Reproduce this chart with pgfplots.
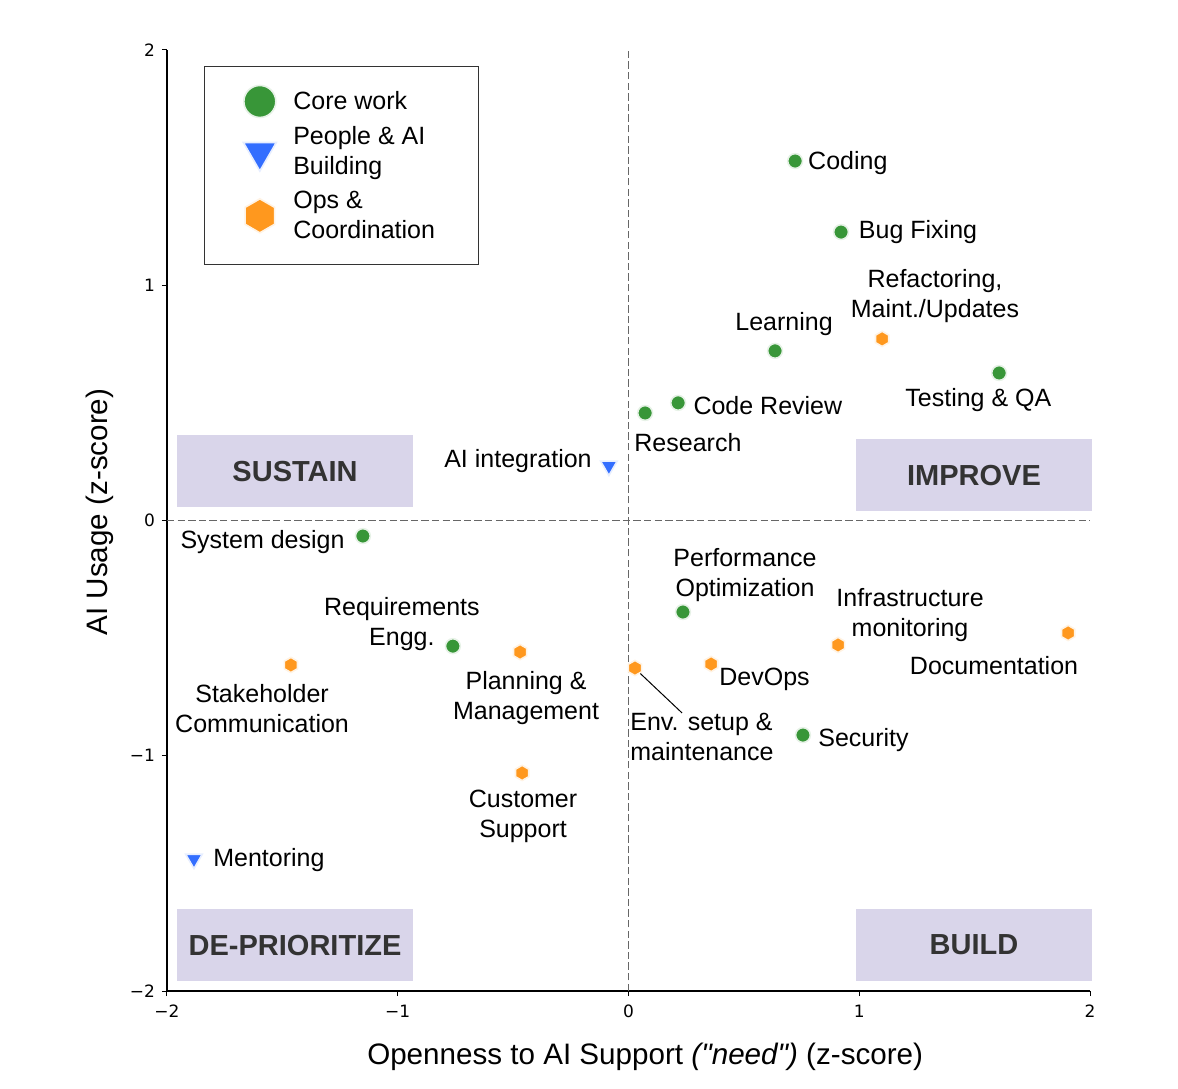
\documentclass[border=0pt]{standalone}
\usepackage{fontspec}
\setmainfont{Liberation Sans}
\newfontfamily\dejavu{DejaVu Sans}
\usepackage{pgfplots}
\pgfplotsset{compat=1.18}

\definecolor{coregreen}{RGB}{56,150,56}
\definecolor{peopleblue}{RGB}{51,110,255}
\definecolor{opsorange}{RGB}{255,152,30}
\definecolor{quadfill}{RGB}{217,213,234}
\definecolor{quadtext}{RGB}{51,51,51}

% pointy-top hexagon, like matplotlib's 'h'
\pgfdeclareplotmark{hexa*}{%
  \pgfpathmoveto{\pgfpointpolar{90}{\pgfplotmarksize}}%
  \pgfpathlineto{\pgfpointpolar{150}{\pgfplotmarksize}}%
  \pgfpathlineto{\pgfpointpolar{210}{\pgfplotmarksize}}%
  \pgfpathlineto{\pgfpointpolar{270}{\pgfplotmarksize}}%
  \pgfpathlineto{\pgfpointpolar{330}{\pgfplotmarksize}}%
  \pgfpathlineto{\pgfpointpolar{30}{\pgfplotmarksize}}%
  \pgfpathclose
  \pgfusepathqfillstroke
}

\begin{document}
\begin{tikzpicture}
\begin{axis}[
  scale only axis,
  width=461.5pt, height=470.5pt,
  xmin=-2, xmax=2, ymin=-2, ymax=2,
  axis x line*=bottom, axis y line*=left,
  axis line style={line width=0.6pt},
  tick align=outside, major tick length=2.5pt,
  tick style={line width=0.5pt, black},
  xtick={-2,-1,0,1,2}, ytick={-2,-1,0,1,2},
  xticklabels={{−2},{−1},0,1,2},
  yticklabels={{−2},{−1},0,1,2},
  tick label style={font=\dejavu\fontsize{8.5}{10}\selectfont},
  xticklabel style={yshift=-1pt},
  xlabel={Openness to AI Support \textit{{\addfontfeature{Ligatures=TeXOff}("need")}} (z-score)},
  ylabel={AI Usage (z-score)},
  label style={font=\fontsize{14.8}{17}\selectfont},
  xlabel style={at={(axis description cs:0.518,-0.070)}, anchor=center},
  ylabel style={at={(axis description cs:-0.0726,0.509)}, anchor=center},
  clip=false,
  legend style={at={(rel axis cs:0.040,0.983)}, anchor=north west,
    draw=black!80, line width=0.5pt,
    font=\fontsize{12.5}{15}\selectfont,
    cells={anchor=west, align=left},
    /tikz/every odd column/.append style={column sep=6.5pt},
    inner xsep=19.5pt, inner ysep=9.5pt, row sep=2.5pt},
  legend cell align=left,
]

% quadrant boxes
\fill[quadfill] (axis cs:-1.957,0.057) rectangle (axis cs:-0.934,0.364);
\fill[quadfill] (axis cs:0.986,0.040) rectangle (axis cs:2.009,0.346);
\fill[quadfill] (axis cs:-1.957,-1.957) rectangle (axis cs:-0.934,-1.651);
\fill[quadfill] (axis cs:0.986,-1.957) rectangle (axis cs:2.009,-1.651);
\begin{scope}[font=\bfseries\fontsize{14.5}{17}\selectfont, text=quadtext]
\node at (axis cs:-1.445,0.210) {SUSTAIN};
\node at (axis cs:1.497,0.193) {IMPROVE};
\node at (axis cs:-1.445,-1.805) {DE-PRIORITIZE};
\node at (axis cs:1.497,-1.805) {BUILD};
\end{scope}

% zero lines
\draw[black!60, line width=0.75pt, dash pattern=on 3.7pt off 1.6pt] (axis cs:0,-2) -- (axis cs:0,2);
\draw[black!60, line width=0.75pt, dash pattern=on 3.7pt off 1.6pt] (axis cs:-2,0) -- (axis cs:2,0);

\addplot[only marks, mark=*, mark size=3.7pt,
  mark options={fill=coregreen, draw=coregreen!12, line width=0.8pt},
  legend image post style={mark size=8pt, line width=1.6pt}] coordinates {
  (0.722,1.528) (0.921,1.226) (0.635,0.721) (1.606,0.627) (0.215,0.500)
  (0.072,0.457) (-1.151,-0.066) (0.236,-0.389) (-0.761,-0.534) (0.756,-0.912)
};
\addlegendentry{Core work}

\addplot[only marks, mark=triangle*, mark size=4.8pt,
  mark options={rotate=180, fill=peopleblue, draw=peopleblue!12, line width=0.8pt},
  legend image post style={mark size=9.5pt, line width=1.6pt}] coordinates {
  (-0.085,0.232) (-1.883,-1.439)
};
\addlegendentry{People \& AI\\Building}

\addplot[only marks, mark=hexa*, mark size=3.8pt,
  mark options={fill=opsorange, draw=opsorange!12, line width=0.8pt},
  legend image post style={mark size=8.5pt, line width=1.6pt}] coordinates {
  (1.099,0.772) (1.905,-0.478) (0.908,-0.529) (0.358,-0.610) (0.028,-0.627)
  (-0.470,-0.559) (-1.463,-0.614) (-0.461,-1.073)
};
\addlegendentry{Ops \&\\Coordination}

% point labels
\begin{scope}[font=\fontsize{12.5}{15}\selectfont, align=center, inner sep=0pt, yshift=-1.2pt]
\node[anchor=west] at (axis cs:0.777,1.528) {Coding};
\node[anchor=west] at (axis cs:0.997,1.235) {Bug Fixing};
\node at (axis cs:1.328,0.963) {Refactoring,\\Maint./Updates};
\node at (axis cs:0.674,0.844) {Learning};
\node at (axis cs:1.516,0.521) {Testing \& QA};
\node[anchor=west] at (axis cs:0.280,0.497) {Code Review};
\node[anchor=west] at (axis cs:0.024,0.342) {Research};
\node[anchor=east] at (axis cs:-0.158,0.261) {AI integration};
\node[anchor=east] at (axis cs:-1.229,-0.082) {System design};
\node at (axis cs:0.505,-0.223) {Performance\\Optimization};
\node at (axis cs:1.220,-0.393) {Infrastructure\\monitoring};
\node at (axis cs:1.584,-0.606) {Documentation};
\node at (axis cs:-0.982,-0.431) {Requirements\\Engg.};
\node at (axis cs:-0.444,-0.746) {Planning \&\\Management};
\node[anchor=west] at (axis cs:0.392,-0.665) {DevOps};
\node[anchor=west, align=left] at (axis cs:0.0065,-0.908) {Env. setup \&\\maintenance};
\node[anchor=west] at (axis cs:0.821,-0.925) {Security};
\node at (axis cs:-1.588,-0.789) {Stakeholder\\Communication};
\node at (axis cs:-0.457,-1.248) {Customer\\Support};
\node[anchor=west] at (axis cs:-1.801,-1.435) {Mentoring};
\end{scope}
\draw[black, line width=0.5pt] (axis cs:0.040,-0.640) -- (axis cs:0.232,-0.818);

% page extent of the reference
\path (rel axis cs:-0.1809,-0.1031) rectangle (rel axis cs:1.0953,1.0531);
\end{axis}
\end{tikzpicture}
\end{document}
